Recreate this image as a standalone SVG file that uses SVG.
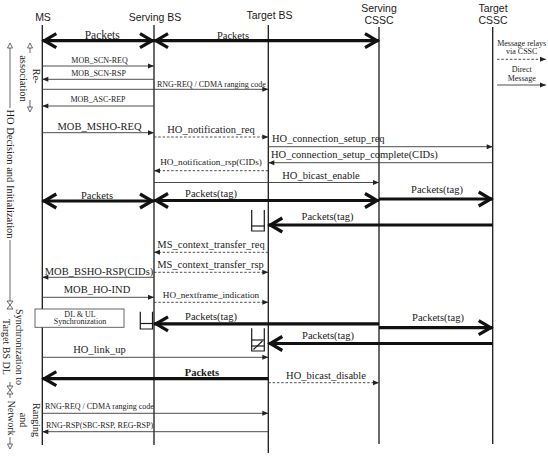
<svg xmlns="http://www.w3.org/2000/svg" width="548" height="456" viewBox="0 0 548 456">
<style>
.ll{stroke:#1a1a1a;stroke-width:1.3}
.m{stroke:#3a3a3a;stroke-width:0.9;fill:none;marker-end:url(#ah)}
.d{stroke-dasharray:2.5 1.8}
.pk{stroke:#111;stroke-width:3.2;fill:none}
.pe{marker-end:url(#ch)}
.ps{marker-start:url(#ch)}
.h{font-family:"Liberation Sans",Arial,sans-serif;font-size:10.5px;fill:#1a1a1a;text-anchor:middle}
.t{font-family:"Liberation Serif","Times New Roman",serif;font-size:10.5px;fill:#1a1a1a;text-anchor:middle}
.s{font-size:8px}
.n{font-size:9.2px}
.st{text-anchor:start}
.b{font-weight:bold}
.br{stroke:#1a1a1a;stroke-width:1.2;fill:none}
.ph{stroke:#444;stroke-width:0.8;fill:none}
.pt{stroke:#444;stroke-width:0.8;fill:#fff}
</style>
<defs>
<marker id="ah" markerUnits="userSpaceOnUse" markerWidth="7" markerHeight="6" refX="6" refY="3" orient="auto" overflow="visible"><path d="M0,0.5 L6,3 L0,5.5 z" fill="#222"/></marker>
<marker id="ch" markerUnits="userSpaceOnUse" markerWidth="20" markerHeight="20" refX="14" refY="7" orient="auto-start-reverse" overflow="visible"><path d="M0,0 L12,7 L0,14" fill="none" stroke="#111" stroke-width="3.2"/></marker>
</defs>
<rect width="548" height="456" fill="#fff"/>

<g id="ms"><text class="h" x="43" y="20.5">MS</text><line class="ll" x1="42.3" y1="25" x2="42.3" y2="445"/></g>
<g id="sbs"><text class="h" x="155" y="20.5">Serving BS</text><line class="ll" x1="154" y1="25" x2="154" y2="445"/></g>
<g id="tbs"><text class="h" x="269.5" y="18.5">Target BS</text><line class="ll" x1="268.3" y1="25" x2="268.3" y2="453"/></g>
<g id="scssc"><text class="h" x="379" y="12">Serving</text><text class="h" x="379" y="24">CSSC</text><line class="ll" x1="379" y1="27" x2="379" y2="444"/></g>
<g id="tcssc"><text class="h" x="493" y="12">Target</text><text class="h" x="493" y="24">CSSC</text><line class="ll" x1="492.7" y1="27" x2="492.7" y2="444"/></g>

<g id="legend">
<text class="t s" x="521.7" y="45.5">Message relays</text>
<text class="t s" x="521.7" y="54">via CSSC</text>
<line class="m d" x1="497" y1="59.3" x2="546" y2="59.3"/>
<text class="t s" x="521.7" y="72">Direct</text>
<text class="t s" x="521.7" y="80.5">Message</text>
<line class="m" x1="497" y1="85" x2="546" y2="85"/>
</g>

<g id="buffers">
<path class="br" d="M251.7,210 V231 H264.3 V210"/><line class="br" x1="251.7" y1="226" x2="264.3" y2="226"/>
<path class="br" d="M140.3,311.7 V329 H152.5 V311.7"/><line class="br" x1="140.3" y1="323.5" x2="152.5" y2="323.5"/>
<path class="br" d="M251.7,328.3 V351 H264.3 V328.3"/><line class="br" x1="251.7" y1="340" x2="264.3" y2="340"/><line class="br" x1="251.7" y1="346" x2="264.3" y2="346"/><line class="br" x1="253.5" y1="349.5" x2="262.5" y2="341"/>
</g>

<g id="sync-box">
<rect x="35" y="309" width="89" height="18.3" fill="#fff" stroke="#555" stroke-width="0.9"/>
<text class="t s" x="80" y="316.5">DL &amp; UL</text>
<text class="t s" x="80" y="324.3">Synchronization</text>
</g>

<g id="connectors">
<line class="pk ps pe" x1="42.3" y1="40.7" x2="154" y2="40.7"/>
<line class="pk ps pe" x1="154" y1="40.7" x2="379" y2="40.7"/>
<line class="m" x1="42.3" y1="66" x2="154" y2="66"/>
<line class="m" x1="154" y1="79.3" x2="42.3" y2="79.3"/>
<line class="m" x1="42.3" y1="89.3" x2="268.3" y2="89.3"/>
<line class="m" x1="154" y1="106" x2="42.3" y2="106"/>
<line class="m" x1="42.3" y1="132.7" x2="154" y2="132.7"/>
<line class="m d" x1="154" y1="137" x2="268.3" y2="137"/>
<line class="m" x1="268.3" y1="146.7" x2="492.7" y2="146.7"/>
<line class="m" x1="492.7" y1="162.7" x2="268.3" y2="162.7"/>
<line class="m d" x1="268.3" y1="170.7" x2="154" y2="170.7"/>
<line class="m" x1="154" y1="182.5" x2="379" y2="182.5"/>
<line class="pk ps pe" x1="42.3" y1="201" x2="154" y2="201"/>
<line class="pk ps pe" x1="154" y1="200.5" x2="379" y2="200.5"/>
<line class="pk pe" x1="379" y1="199" x2="492.7" y2="199"/>
<line class="pk pe" x1="492.7" y1="225" x2="268.3" y2="225"/>
<line class="m d" x1="268.3" y1="252.3" x2="154" y2="252.3"/>
<line class="m d" x1="154" y1="272.3" x2="268.3" y2="272.3"/>
<line class="m" x1="154" y1="277.3" x2="42.3" y2="277.3"/>
<line class="m" x1="42.3" y1="297.3" x2="154" y2="297.3"/>
<line class="m d" x1="154" y1="302.3" x2="268.3" y2="302.3"/>
<line class="pk pe" x1="379" y1="323.8" x2="154" y2="323.8"/>
<line class="pk pe" x1="379" y1="327.7" x2="492.7" y2="327.7"/>
<line class="pk pe" x1="492.7" y1="343.5" x2="268.3" y2="343.5"/>
<line class="m" x1="42.3" y1="357.3" x2="268.3" y2="357.3"/>
<line class="pk pe" x1="268.3" y1="378.7" x2="42.3" y2="378.7"/>
<line class="m d" x1="268.3" y1="382.7" x2="379" y2="382.7"/>
<line class="m" x1="42.3" y1="413.3" x2="268.3" y2="413.3"/>
<line class="m" x1="268.3" y1="431.7" x2="42.3" y2="431.7"/>
</g>

<g id="labels">
<text class="t" x="102.2" y="38.5" style="font-size:11.5px">Packets</text>
<text class="t" x="233" y="38.5">Packets</text>
<text class="t s" x="99.5" y="62.5">MOB_SCN-REQ</text>
<text class="t s" x="98.5" y="75.5">MOB_SCN-RSP</text>
<text class="t s st" x="157" y="86.5">RNG-REQ / CDMA ranging code</text>
<text class="t s" x="98" y="101.5">MOB_ASC-REP</text>
<text class="t" x="99.5" y="129.5">MOB_MSHO-REQ</text>
<text class="t" x="211" y="132.5">HO_notification_req</text>
<text class="t st" x="272" y="142">HO_connection_setup_req</text>
<text class="t st" x="271" y="158">HO_connection_setup_complete(CIDs)</text>
<text class="t n" x="211" y="164.5">HO_notification_rsp(CIDs)</text>
<text class="t" x="321" y="178.5">HO_bicast_enable</text>
<text class="t" x="97" y="198.5">Packets</text>
<text class="t" x="211" y="196.5">Packets(tag)</text>
<text class="t" x="437" y="193">Packets(tag)</text>
<text class="t" x="327.5" y="219.5">Packets(tag)</text>
<text class="t" x="211" y="248">MS_context_transfer_req</text>
<text class="t" x="210.5" y="268">MS_context_transfer_rsp</text>
<text class="t" x="99" y="274.5">MOB_BSHO-RSP(CIDs)</text>
<text class="t" x="97" y="293">MOB_HO-IND</text>
<text class="t n" x="211" y="298">HO_nextframe_indication</text>
<text class="t" x="211" y="319.5">Packets(tag)</text>
<text class="t" x="438" y="321">Packets(tag)</text>
<text class="t" x="328" y="339">Packets(tag)</text>
<text class="t" x="99.5" y="352.5">HO_link_up</text>
<text class="t b" x="202" y="376">Packets</text>
<text class="t" x="326" y="379">HO_bicast_disable</text>
<text class="t s st" x="45" y="409">RNG-REQ / CDMA ranging code</text>
<text class="t s st" x="46" y="427.5">RNG-RSP(SBC-RSP, REG-RSP)</text>
</g>

<g id="phases">
<path class="pt" d="M27.5,48 L32.5,48 L30,43 z"/><line class="ph" x1="30" y1="48" x2="30" y2="53"/>
<line class="ph" x1="30" y1="100" x2="30" y2="107"/><path class="pt" d="M27.5,107 L32.5,107 L30,112 z"/>
<text class="t" transform="translate(33,76) rotate(90)">Re-</text>
<text class="t" transform="translate(19.5,78.5) rotate(90)">association</text>

<path class="pt" d="M7.5,48 L12.5,48 L10,43 z"/><line class="ph" x1="10" y1="48" x2="10" y2="108"/>
<text class="t" transform="translate(7,174) rotate(90)">HO Decision and Initialization</text>
<line class="ph" x1="10" y1="240" x2="10" y2="301"/>
<path class="pt" d="M7,301 L13,301 L10,305 z"/>
<path class="pt" d="M7,309 L13,309 L10,305 z"/>
<text class="t" transform="translate(16,347) rotate(90)" style="font-size:10px">Synchronization to</text>
<text class="t" transform="translate(2.5,347) rotate(90)" style="font-size:10px">Target BS DL</text>
<line class="ph" x1="10" y1="382" x2="10" y2="386"/>
<path class="pt" d="M7,386 L13,386 L10,390 z"/>
<path class="pt" d="M7,394 L13,394 L10,390 z"/>
<line class="ph" x1="10" y1="394" x2="10" y2="398"/>
<text class="t" transform="translate(33,420) rotate(90)" style="font-size:10px">Ranging</text>
<text class="t" transform="translate(20,420) rotate(90)" style="font-size:10px">and</text>
<text class="t" transform="translate(7.5,418) rotate(90)" style="font-size:10px">Network</text>
<line class="ph" x1="10" y1="437" x2="10" y2="444"/>
<path class="pt" d="M7.5,444 L12.5,444 L10,449 z"/>
</g>
</svg>
